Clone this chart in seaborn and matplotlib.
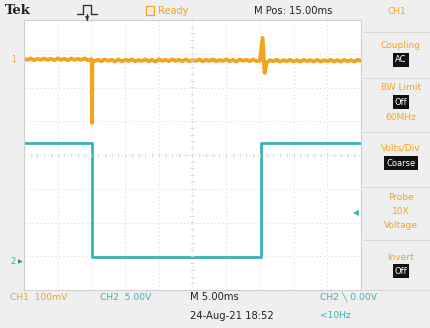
import numpy as np
import pandas as pd
import matplotlib
matplotlib.use("Agg")
import matplotlib.pyplot as plt
from matplotlib.patches import Rectangle
from matplotlib.lines import Line2D
import seaborn as sns

# ---------------- data (time in ms, level in screen divisions) ----------------
ch1_time = [0.0, 0.5, 1.0, 1.5, 2.0, 2.5, 3.0, 3.5, 4.0, 4.5, 5.0, 5.5, 6.0, 6.5, 7.0,
            7.5, 8.0, 8.5, 9.0, 9.5, 10.0,
            10.05, 10.1, 10.15,
            10.5, 11.0, 11.5, 12.0, 12.5, 13.0, 13.5, 14.0, 14.5, 15.0,
            15.5, 16.0, 16.5, 17.0, 17.5, 18.0, 18.5, 19.0, 19.5, 20.0,
            20.5, 21.0, 21.5, 22.0, 22.5, 23.0, 23.5, 24.0, 24.5, 25.0,
            25.5, 26.0, 26.5, 27.0, 27.5, 28.0, 28.5, 29.0, 29.5, 30.0,
            30.5, 31.0, 31.5, 32.0, 32.5, 33.0, 33.5, 34.0, 34.5, 35.0,
            35.4, 35.7,
            36.0, 36.5, 37.0, 37.5, 38.0, 38.5, 39.0, 39.5, 40.0, 40.5,
            41.0, 41.5, 42.0, 42.5, 43.0, 43.5, 44.0, 44.5, 45.0, 45.5,
            46.0, 46.5, 47.0, 47.5, 48.0, 48.5, 49.0, 49.5, 50.0]
ch1_level = [2.85, 2.82, 2.86, 2.81, 2.85, 2.82, 2.86, 2.82, 2.85, 2.81, 2.86, 2.82, 2.85, 2.81, 2.86,
             2.82, 2.85, 2.82, 2.86, 2.81, 2.84,
             2.80, 0.95, 2.78,
             2.79, 2.82, 2.78, 2.83, 2.79, 2.82, 2.77, 2.83, 2.78, 2.82,
             2.79, 2.83, 2.78, 2.81, 2.79, 2.83, 2.78, 2.82, 2.77, 2.83,
             2.79, 2.82, 2.78, 2.83, 2.79, 2.82, 2.78, 2.83, 2.78, 2.81,
             2.79, 2.83, 2.78, 2.82, 2.79, 2.83, 2.78, 2.81, 2.79, 2.83,
             2.78, 2.82, 2.77, 2.83, 2.79, 2.82, 2.78, 2.83, 2.78, 2.80,
             3.47, 2.43,
             2.74, 2.81, 2.78, 2.82, 2.77, 2.81, 2.78, 2.82, 2.77, 2.81,
             2.77, 2.82, 2.78, 2.81, 2.77, 2.82, 2.77, 2.81, 2.78, 2.82,
             2.77, 2.81, 2.77, 2.82, 2.78, 2.81, 2.77, 2.82, 2.79]

ch2_time = [0.0, 10.1, 10.1, 35.1, 35.1, 50.0]
ch2_level = [0.36, 0.36, -3.02, -3.02, 0.36, 0.36]

top_labels = ["Tek", "Ready", "M Pos: 15.00ms", "CH1"]
bottom_labels = ["CH1  100mV", "CH2  5.00V", "M 5.00ms", "24-Aug-21 18:52", "CH2 \u2572 0.00V", "<10Hz"]
menu_labels = ["Coupling", "AC", "BW Limit", "Off", "60MHz", "Volts/Div", "Coarse",
               "Probe", "10X", "Voltage", "Invert", "Off"]

ORANGE = "#f2a420"
CYAN = "#36b3ba"
BG = "#efefef"

ch1 = pd.DataFrame({"time": ch1_time, "level": ch1_level})
ch2 = pd.DataFrame({"time": ch2_time, "level": ch2_level})

sns.set_theme(style="white")
plt.rcParams['font.family'] = ['DejaVu Sans']

W, H = 431, 328
fig = plt.figure(figsize=(W / 100, H / 100), dpi=100, facecolor=BG)

def fx(px):
    return px / W

def fy(py):
    return 1 - py / H

ax = fig.add_axes([fx(24), fy(290), fx(337), 270 / H])
ax.set_facecolor("white")

sns.lineplot(data=ch1, x="time", y="level", sort=False, estimator=None,
             color=ORANGE, lw=2.8, ax=ax)
sns.lineplot(data=ch2, x="time", y="level", sort=False, estimator=None,
             color=CYAN, lw=2.0, ax=ax)

ax.set_xlim(0, 50)
ax.set_ylim(-4, 4)
ax.set_xticks(np.arange(0, 51, 5))
ax.set_yticks(np.arange(-4, 5, 1))
ax.grid(True, color="#d2d2d2", linestyle=(0, (1, 3)), lw=0.7)
ax.set_xlabel("")
ax.set_ylabel("")
ax.tick_params(left=False, bottom=False, labelleft=False, labelbottom=False)
for s in ax.spines.values():
    s.set_color("#cfcfcf")
    s.set_linewidth(0.8)

# centre crosshair minor ticks
ax.plot(np.arange(0, 50.1, 1.0), np.zeros(51), ls="none", marker="|", ms=3,
        color="#d6d6d6", mew=0.6)
ax.plot(np.full(41, 25.0), np.arange(-4, 4.01, 0.2), ls="none", marker="_", ms=3,
        color="#d6d6d6", mew=0.6)

# channel markers
fig.text(fx(14), fy(60), "1", color=ORANGE, fontsize=5.5, ha="center", va="center")
fig.text(fx(13), fy(262), "2", color=CYAN, fontsize=6, ha="center", va="center")
fig.text(fx(20), fy(262), "\u25B6", color="#2a8f96", fontsize=4.5, ha="center", va="center")
fig.text(fx(356), fy(213), "\u25C0", color=CYAN, fontsize=5.5, ha="center", va="center")

# ---------------- top bar ----------------
fig.text(fx(5), fy(11), top_labels[0], fontsize=9.5, fontweight="bold",
         family="DejaVu Serif", color="#222222", va="center")
pulse_x = [77, 83, 83, 91, 91, 97]
pulse_y = [14, 14, 5, 5, 14, 14]
fig.add_artist(Line2D([fx(v) for v in pulse_x], [fy(v) for v in pulse_y],
                      color="#333333", lw=1.0, transform=fig.transFigure))
fig.add_artist(Line2D([fx(87), fx(87)], [fy(14), fy(20)], color="#333333", lw=1.0,
                      transform=fig.transFigure))
fig.text(fx(87), fy(19), "\u25BC", fontsize=4, color="#333333", ha="center", va="center")
fig.add_artist(Rectangle((fx(146), fy(15)), fx(8), 9 / H, facecolor="none",
                         edgecolor=ORANGE, lw=0.9, transform=fig.transFigure))
fig.text(fx(158), fy(11), top_labels[1], fontsize=7, color=ORANGE, va="center")
fig.text(fx(254), fy(11), top_labels[2], fontsize=7.2, color="#222222", va="center")
fig.text(fx(397), fy(11), top_labels[3], fontsize=6.5, color=ORANGE, va="center", ha="center")

# ---------------- right menu ----------------
for py in [32, 78, 132, 187, 240, 290]:
    fig.add_artist(Line2D([fx(363), fx(431)], [fy(py), fy(py)], color="#d8d8d8",
                          lw=0.8, transform=fig.transFigure))

menu_items = [
    (46, 0, False), (60, 1, True),
    (88, 2, False), (102, 3, True), (117, 4, False),
    (148, 5, False), (163, 6, True),
    (198, 7, False), (212, 8, False), (226, 9, False),
    (257, 10, False), (271, 11, True),
]
for py, idx, boxed in menu_items:
    if boxed:
        fig.text(fx(401), fy(py), menu_labels[idx], fontsize=6, color="white",
                 ha="center", va="center",
                 bbox=dict(boxstyle="square,pad=0.25", facecolor="#111111", edgecolor="none"))
    else:
        fig.text(fx(401), fy(py), menu_labels[idx], fontsize=6.5, color=ORANGE,
                 ha="center", va="center")

# ---------------- bottom bar ----------------
fig.text(fx(10), fy(297), bottom_labels[0], fontsize=6.6, color=ORANGE, va="center")
fig.text(fx(100), fy(297), bottom_labels[1], fontsize=6.6, color=CYAN, va="center")
fig.text(fx(190), fy(297), bottom_labels[2], fontsize=7.2, color="#222222", va="center")
fig.text(fx(190), fy(316), bottom_labels[3], fontsize=7.2, color="#222222", va="center")
fig.text(fx(320), fy(297), bottom_labels[4], fontsize=6.6, color=CYAN, va="center")
fig.text(fx(320), fy(316), bottom_labels[5], fontsize=6.6, color=CYAN, va="center")

fig.savefig("out.png", dpi=100, facecolor=BG)
